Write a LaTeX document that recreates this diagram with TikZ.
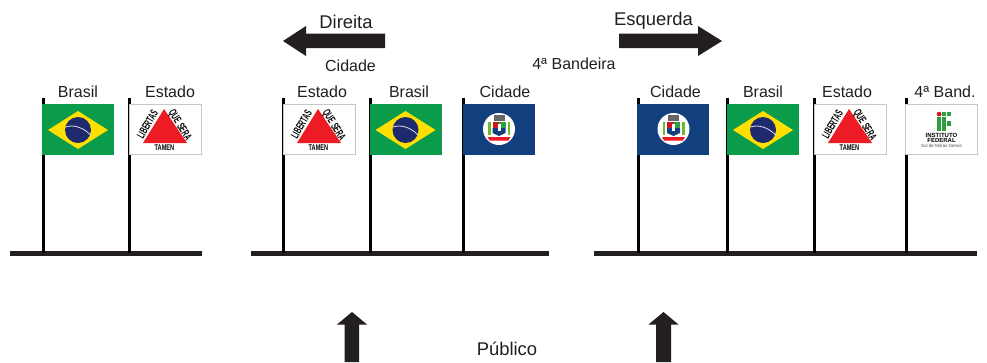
\documentclass[tikz,border=0pt]{standalone}
\usepackage{fontspec}
\usepackage{graphicx}
\setmainfont{Liberation Sans}
\definecolor{ink}{HTML}{231F20}
\definecolor{brgreen}{HTML}{0A9C4A}
\definecolor{bryellow}{HTML}{FEDF00}
\definecolor{brblue}{HTML}{1D2A6D}
\definecolor{cityblue}{HTML}{123F7E}
\definecolor{mgred}{HTML}{ED1C24}
\definecolor{ifgreen}{HTML}{2F9E41}
\definecolor{ifred}{HTML}{CD191E}
\tikzset{
  lbl/.style={font=\fontsize{12}{14}\selectfont,text=ink,inner sep=0pt,anchor=center},
  lblbig/.style={font=\fontsize{13.8}{16}\selectfont,text=ink,inner sep=0pt,anchor=center},
  ground/.style={fill=ink,draw=none},
  bigarrow/.style={fill=ink,draw=none},
  pole/.style={fill=black,draw=none},
  flagedge/.style={draw=black!22,line width=.5pt,fill=white},
  ifsq/.style={fill=ifgreen,draw=none},
  pics/polo/.style={code={\fill[pole] (-1.5,98) rectangle (1.5,253);}},
  pics/brasil/.style={code={
    \fill[brgreen] (0,0) rectangle (72,51);
    \fill[bryellow] (6,26) -- (36,7) -- (66,26) -- (36,45) -- cycle;
    \fill[brblue] (36,26) circle[radius=13];
    \draw[white!85!brblue,line width=.6pt] (23.5,23) .. controls (32,20) and (42,24) .. (48.5,31);
  }},
  pics/estado/.style={code={
    \path[flagedge] (0,0) rectangle (72,50);
    \fill[mgred] (35,5) -- (58,39) -- (14,39) -- cycle;
    \node[inner sep=0pt,rotate=60,font=\fontsize{8.3}{9}\selectfont\bfseries] at (18.5,20.5) {\scalebox{.56}[1]{LIBERTAS}};
    \node[inner sep=0pt,rotate=-58,font=\fontsize{8.3}{9}\selectfont\bfseries] at (50.5,21.5) {\scalebox{.58}[1]{QUE SERA}};
    \node[inner sep=0pt,font=\fontsize{6.2}{7}\selectfont\bfseries] at (35.5,43.5) {\scalebox{.68}[1]{TAMEN}};
  }},
  pics/cidade/.style={code={
    \fill[cityblue] (0,0) rectangle (72,51);
    \fill[white] (36.5,25) circle[radius=16];
    \fill[black!60] (31,10.5) rectangle (42,16.5);
    \fill[mgred!85!black] (30,17.5) rectangle (36.5,24);
    \fill[ifgreen] (36.5,17.5) rectangle (43,24);
    \fill[cityblue] (30,24) -- (43,24) -- (43,29) -- (36.5,32) -- (30,29) -- cycle;
    \fill[white] (35,20) rectangle (38,27);
    \fill[ifgreen!70!yellow] (25.5,18) rectangle (28,31);
    \fill[ifgreen!70!yellow] (45,18) rectangle (47.5,31);
    \fill[mgred] (25,33) -- (48,33) -- (46,36.5) -- (27,36.5) -- cycle;
  }},
  pics/ifsm/.style={code={
    \path[flagedge] (0,0) rectangle (72,50);
    \fill[ifred] (33.6,10.1) circle[radius=2.4];
    \foreach \c/\r in {1/0,2/0,0/1,1/1,0/2,1/2,2/2,0/3,1/3}
      \fill[ifsq] (31.2+\c*5,7.8+\r*4.8) rectangle (35.9+\c*5,12.3+\r*4.8);
    \node[inner sep=0pt,font=\fontsize{4.5}{5}\selectfont\bfseries] at (36,31.5) {INSTITUTO};
    \node[inner sep=0pt,font=\fontsize{4.5}{5}\selectfont\bfseries] at (36,36.5) {FEDERAL};
    \node[inner sep=0pt,text=black!70,font=\fontsize{3.4}{4}\selectfont] at (36,42) {Sul de Minas Gerais};
  }},
}
\begin{document}
\begin{tikzpicture}[x=.75pt,y=-.75pt]
\useasboundingbox[fill=white] (0,0) rectangle (987,362);

% ground lines
\fill[ground] (10,250.8) rectangle (202,255.5);
\fill[ground] (251,250.8) rectangle (549,255.5);
\fill[ground] (594,250.8) rectangle (977,255.5);

% poles
\foreach \px in {43.2,129.8,283.5,370.5,463.5,638,727.5,814.5,906.5}
  \path (\px,0) pic {polo};

% flags
\path (42,104) pic {brasil};
\path (129,104) pic {estado};
\path (283,104) pic {estado};
\path (369.5,104) pic {brasil};
\path (462.5,104) pic {cidade};
\path (637,104) pic {cidade};
\path (727,104) pic {brasil};
\path (814,104) pic {estado};
\path (905.5,104) pic {ifsm};

% flag labels
\node[lbl] (a1) at (78,92) {Brasil};
\node[lbl] (a2) at (170,92) {Estado};
\node[lbl] (b1) at (322,92) {Estado};
\node[lbl] (b2) at (409,92) {Brasil};
\node[lbl] (b3) at (505,92) {Cidade};
\node[lbl] (c1) at (675.5,92) {Cidade};
\node[lbl] (c2) at (763,92) {Brasil};
\node[lbl] (c3) at (847,92) {Estado};
\node[lbl] (c4) at (945,92) {4ª Band.};

% direction labels
\node[lblbig] (dir) at (346,22) {Direita};
\node[lbl] (cid) at (350.5,66) {Cidade};
\node[lblbig] (esq) at (653.5,21) {Esquerda};
\node[lbl] (qua) at (574,64) {4ª Bandeira};
\node[lblbig] (pub) at (507,349) {Público};

% arrows
\fill[bigarrow] (283,41) -- (306,26) -- (306,33.5) -- (385,33.5) -- (385,48) -- (306,48) -- (306,56) -- cycle;
\fill[bigarrow] (722,41) -- (698,26) -- (698,33.5) -- (619,33.5) -- (619,48) -- (698,48) -- (698,56) -- cycle;
\fill[bigarrow] (352,312) -- (367,324.5) -- (359,324.5) -- (359,362) -- (344.5,362) -- (344.5,324.5) -- (337,324.5) -- cycle;
\fill[bigarrow] (663.5,312) -- (678.5,324.5) -- (671,324.5) -- (671,362) -- (656,362) -- (656,324.5) -- (648.5,324.5) -- cycle;
\end{tikzpicture}
\end{document}
